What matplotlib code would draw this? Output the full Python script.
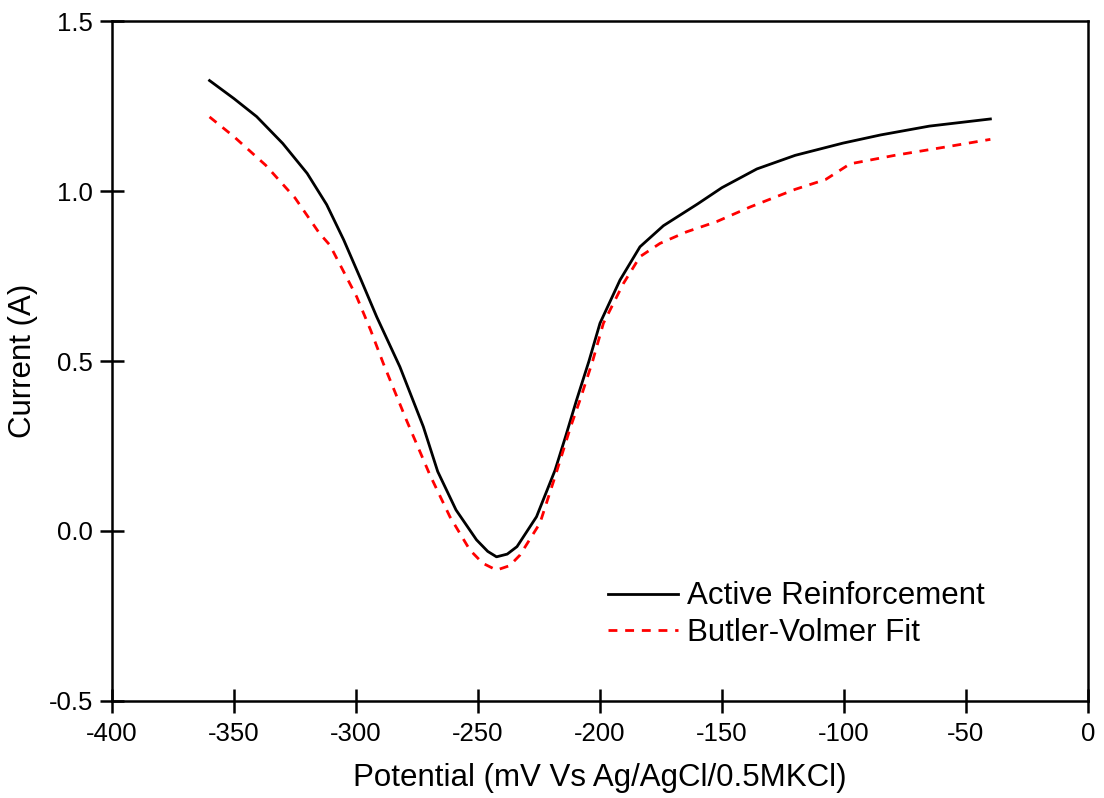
import matplotlib
matplotlib.use("Agg")
import matplotlib.pyplot as plt

plt.rcParams["font.family"] = ["Liberation Sans", "DejaVu Sans"]

# measured polarisation curve (active reinforcement)
active_potential = [-360, -350, -340.7, -330, -320, -312, -305, -298, -291.5, -282,
                    -272.4, -266.5, -259, -250.6, -246, -242.4, -238, -234, -226, -218.4,
                    -214, -209.6, -204.5, -200, -191.8, -183.6, -174, -160, -150, -135.7,
                    -120, -100.4, -85, -65, -40]
active_current = [1.325, 1.272, 1.219, 1.14, 1.052, 0.96, 0.856, 0.74, 0.630, 0.483,
                  0.307, 0.175, 0.062, -0.026, -0.060, -0.076, -0.068, -0.046, 0.042, 0.179,
                  0.28, 0.385, 0.50, 0.611, 0.738, 0.836, 0.898, 0.962, 1.01, 1.065,
                  1.105, 1.141, 1.165, 1.191, 1.212]

# Butler-Volmer fit
fit_potential = [-360, -350, -337, -325, -315, -310.7, -299.7, -294, -288.8, -279.3,
                 -269.7, -261.5, -253.3, -248, -242.4, -237, -232.8, -224.6, -218.4, -212,
                 -208.2, -203, -198.6, -190.4, -183.6, -175.4, -164.5, -152.2, -138.5, -120,
                 -107.5, -97.5, -79.2, -58, -40]
fit_current = [1.218, 1.16, 1.076, 0.98, 0.876, 0.841, 0.689, 0.591, 0.493, 0.326,
               0.165, 0.042, -0.056, -0.095, -0.115, -0.102, -0.071, 0.023, 0.160, 0.307,
               0.385, 0.50, 0.611, 0.728, 0.807, 0.846, 0.880, 0.910, 0.953, 1.005,
               1.034, 1.08, 1.105, 1.13, 1.152]

x_ticks = [-400, -350, -300, -250, -200, -150, -100, -50, 0]
y_ticks = [-0.5, 0.0, 0.5, 1.0, 1.5]

fig = plt.figure(figsize=(11.04, 7.98), dpi=100)
ax = fig.add_axes([0.1014, 0.1216, 0.8841, 0.852])

ax.plot(active_potential, active_current, color="black", linewidth=2,
        label="Active Reinforcement")
ax.plot(fit_potential, fit_current, color="#ff0000", linewidth=2,
        linestyle=(0, (3.2, 2.8)), label="Butler-Volmer Fit")

ax.set_xlim(-400, 0)
ax.set_ylim(-0.5, 1.5)
ax.set_xticks(x_ticks)
ax.set_xticklabels([str(t) for t in x_ticks])
ax.set_yticks(y_ticks)
ax.set_yticklabels([f"{t:.1f}" for t in y_ticks])
ax.tick_params(direction="inout", length=17, width=1.8, labelsize=18.5)
ax.tick_params(axis="x", pad=7)
ax.tick_params(axis="y", pad=5)
for spine in ax.spines.values():
    spine.set_linewidth(1.8)

ax.set_xlabel("Potential (mV Vs Ag/AgCl/0.5MKCl)", fontsize=22.5, labelpad=12)
ax.set_ylabel("Current (A)", fontsize=22.5, labelpad=8)

ax.legend(loc="center left", bbox_to_anchor=(0.492, 0.127), frameon=False,
          fontsize=22.5, borderpad=0, handlelength=2.25, handletextpad=0.3,
          labelspacing=0.2)

fig.savefig("out.png", dpi=100, facecolor="white")
